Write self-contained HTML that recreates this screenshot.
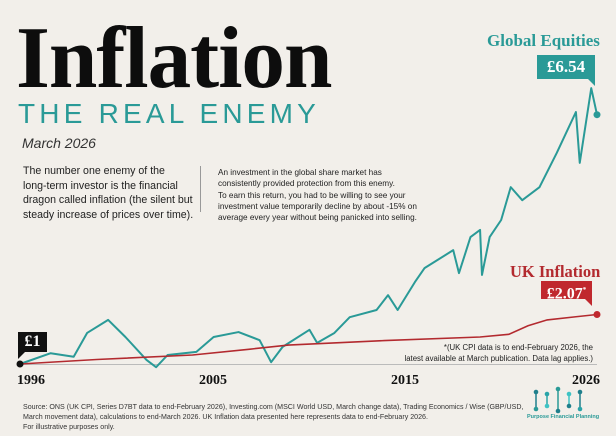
<!DOCTYPE html>
<html><head><meta charset="utf-8"><style>
body{margin:0;width:616px;height:436px;overflow:hidden;background:#f2efea;font-family:"Liberation Sans",sans-serif;}
.a{position:absolute;white-space:nowrap}
</style></head><body>
<div style="position:relative;width:616px;height:436px;">
<div class="a" style="left:16px;top:12px;font-family:'Liberation Serif',serif;font-weight:bold;font-size:88px;line-height:94px;color:#0d0d0d;letter-spacing:-1px;transform:scaleX(0.99);transform-origin:left;">Inflation</div>
<div class="a" style="left:18px;top:98px;font-size:28px;color:#2a9a97;letter-spacing:4.2px;font-weight:300;">THE REAL ENEMY</div>
<div class="a" style="left:22px;top:135px;font-size:14px;font-style:italic;color:#333;">March 2026</div>
<div class="a" style="left:23px;top:164px;font-size:10.6px;line-height:14.5px;color:#222;">The number one enemy of the<br>long-term investor is the financial<br>dragon called inflation (the silent but<br>steady increase of prices over time).</div>
<div class="a" style="left:200px;top:166px;width:1px;height:46px;background:#999;"></div>
<div class="a" style="left:218px;top:167px;font-size:8.2px;line-height:11.3px;color:#222;">An investment in the global share market has<br>consistently provided protection from this enemy.<br>To earn this return, you had to be willing to see your<br>investment value temporarily decline by about -15% on<br>average every year without being panicked into selling.</div>

<svg class="a" style="left:0;top:0" width="616" height="436" id="svg"></svg>

<div class="a" style="left:487px;top:31px;font-family:'Liberation Serif',serif;font-weight:bold;font-size:17px;color:#2a9a97;">Global Equities</div>
<div class="a" style="left:537px;top:55px;width:58px;height:24px;background:#2a9a97;color:#fff;font-family:'Liberation Serif',serif;font-weight:bold;font-size:17px;line-height:24px;text-align:center;">£6.54</div>
<div class="a" style="left:510px;top:262px;font-family:'Liberation Serif',serif;font-weight:bold;font-size:16.5px;color:#b32a2f;">UK Inflation</div>
<div class="a" style="left:541px;top:281px;width:51px;height:18px;background:#c0282e;color:#fff;font-family:'Liberation Serif',serif;font-weight:bold;font-size:16px;line-height:18px;text-align:center;">£2.07<sup style="font-size:7px">*</sup></div>
<div class="a" style="left:18px;top:332px;width:29px;height:20px;background:#111;color:#fff;font-family:'Liberation Serif',serif;font-weight:bold;font-size:16px;line-height:20px;text-align:center;">£1</div>
<div class="a" style="right:23px;top:343px;font-size:7.8px;line-height:10.5px;color:#222;text-align:right;">*(UK CPI data is to end-February 2026, the<br>latest available at March publication. Data lag applies.)</div>
<div class="a" style="left:23px;top:402px;font-size:7.1px;line-height:10px;color:#333;">Source: ONS (UK CPI, Series D7BT data to end-February 2026), Investing.com (MSCI World USD, March change data), Trading Economics / Wise (GBP/USD,<br>March movement data), calculations to end-March 2026. UK Inflation data presented here represents data to end-February 2026.<br>For illustrative purposes only.</div>
<div class="a" style="left:527px;top:414px;font-size:5.5px;color:#2a9a97;font-weight:bold;">Purpose Financial Planning</div>
</div>
<script>
const eqYears=[1996.0,1997.6,1998.8,1999.5,2000.6,2001.5,2002.6,2003.1,2003.7,2005.2,2006.1,2007.4,2008.5,2009.1,2009.7,2011.1,2011.5,2012.4,2013.2,2014.6,2015.2,2015.7,2016.6,2017.1,2018.6,2018.9,2019.5,2020.0,2020.1,2020.5,2021.1,2021.6,2022.2,2023.1,2024.0,2025.0,2025.2,2025.8,2026.1];
const eqValues=[1.0,1.24,1.16,1.69,1.98,1.6,1.09,0.93,1.2,1.27,1.6,1.71,1.53,1.04,1.38,1.76,1.47,1.69,2.04,2.2,2.53,2.2,2.82,3.13,3.53,3.02,3.82,3.98,2.98,3.82,4.2,4.93,4.64,4.93,5.69,6.6,5.47,7.13,6.54];
const cpiYears=[1996,2000,2005,2008,2010,2015,2020,2021.5,2022.5,2023.5,2025,2026.1];
const cpiValues=[1.0,1.1,1.2,1.33,1.42,1.52,1.6,1.66,1.85,1.98,2.05,2.1];
const yearTicks=["1996","2005","2015","2026"];
const tickX=[31,213,405,586];
const NS="http://www.w3.org/2000/svg";
const svg=document.getElementById('svg');
const xs=y=>20+(y-1996)*(577/30.1);
const ys=v=>364-(v-1)*45;
function mk(t,a){const e=document.createElementNS(NS,t);for(const k in a)e.setAttribute(k,a[k]);svg.appendChild(e);return e;}
let ax=mk('line',{x1:20,y1:364.5,x2:597,y2:364.5,stroke:'#bbb','stroke-width':1});


let p1=mk('polyline',{points:eqYears.map((y,i)=>xs(y)+','+ys(eqValues[i])).join(' '),fill:'none',stroke:'#2a9a97','stroke-width':2,'stroke-linejoin':'round'});


let p2=mk('polyline',{points:cpiYears.map((y,i)=>xs(y)+','+ys(cpiValues[i])).join(' '),fill:'none',stroke:'#b32a2f','stroke-width':1.6});


const n=eqYears.length-1,m=cpiYears.length-1;
let d1=mk('circle',{cx:xs(eqYears[n]),cy:ys(eqValues[n]),r:3.5,fill:'#2a9a97'});


let d2=mk('circle',{cx:xs(cpiYears[m]),cy:ys(cpiValues[m]),r:3.5,fill:'#c0282e'});


let d0=mk('circle',{cx:20,cy:364,r:3.5,fill:'#111'});


let t1=mk('polygon',{points:'588,79 595,79 595,86',fill:'#2a9a97'});


let t2=mk('polygon',{points:'585,299 592,299 592,306',fill:'#c0282e'});


let t3=mk('polygon',{points:'18,352 25,352 18,359',fill:'#111'});


yearTicks.forEach((t,i)=>{const e=mk('text',{x:tickX[i],y:384,'text-anchor':'middle','font-family':'Liberation Serif,serif','font-weight':'bold','font-size':14,fill:'#111'});e.textContent=t;

});
const lx=[536,547,558,569,580],lt=[392,394,389,394,392],lb=[409,406,411,406,409],lc=['#1f7f8c','#2aa4a8','#2a9a97','#3ec3c4','#1f7f8c'];
lx.forEach((x,i)=>{const l=mk('line',{x1:x,y1:lt[i],x2:x,y2:lb[i],stroke:lc[i],'stroke-width':1.5});


mk('circle',{cx:x,cy:lt[i],r:2.3,fill:lc[i]});mk('circle',{cx:x,cy:lb[i],r:2.3,fill:lc[(i+2)%5]});});
</script>
</body></html>
